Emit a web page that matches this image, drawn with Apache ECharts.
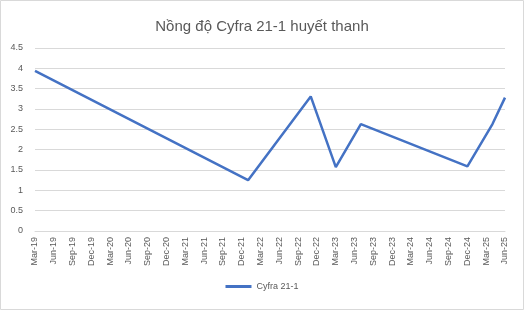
<!DOCTYPE html>
<html><head><meta charset="utf-8">
<script src="https://cdn.jsdelivr.net/npm/echarts@6/dist/echarts.min.js"></script>
<style>html,body{margin:0;padding:0;background:#fff}#c{width:524px;height:310px}</style>
</head><body><div id="c"></div>
<script>
var title = 'Nồng độ Cyfra 21-1 huyết thanh';
var seriesName = 'Cyfra 21-1';
// observation dates (year, month) and values
var obsDates = ['2019-03','2022-01','2022-11','2023-03','2023-07','2024-12','2025-04','2025-06'];
var obsValues = [3.94, 1.25, 3.31, 1.57, 2.63, 1.59, 2.63, 3.28];
var tickLabels = ['Mar-19','Jun-19','Sep-19','Dec-19','Mar-20','Jun-20','Sep-20','Dec-20','Mar-21','Jun-21','Sep-21','Dec-21','Mar-22','Jun-22','Sep-22','Dec-22','Mar-23','Jun-23','Sep-23','Dec-23','Mar-24','Jun-24','Sep-24','Dec-24','Mar-25','Jun-25'];

function monthIndex(s){var p=s.split('-');return (+p[0]-2019)*12+(+p[1]-3);}
var data = obsDates.map(function(d,i){return [monthIndex(d), obsValues[i]];});

var chart = echarts.init(document.getElementById('c'));
var font = 'Liberation Sans';
chart.setOption({
  animation:false,
  textStyle:{fontFamily:font},
  title:{text:title,left:'center',top:14,textStyle:{fontFamily:font,fontSize:15,fontWeight:'normal',color:'#595959'}},
  graphic:[{type:'rect',shape:{x:0.5,y:0.5,width:523,height:309},style:{fill:'none',stroke:'#d9d9d9',lineWidth:1},silent:true}],
  grid:{left:35,right:19,top:48,bottom:79},
  xAxis:{type:'value',min:0,max:75,interval:3,
    axisLine:{show:true,lineStyle:{color:'#d9d9d9'}},axisTick:{show:false},splitLine:{show:false},
    axisLabel:{rotate:90,fontSize:9,color:'#595959',margin:6,formatter:function(v){return tickLabels[Math.round(v/3)]||'';}}},
  yAxis:{type:'value',min:0,max:4.5,interval:0.5,
    axisLine:{show:false},axisTick:{show:false},
    splitLine:{lineStyle:{color:'#d9d9d9'}},
    axisLabel:{fontSize:9,color:'#595959',margin:12}},
  legend:{bottom:14,left:'center',itemWidth:26,itemHeight:3,icon:'rect',textStyle:{fontSize:9,color:'#595959'},data:[seriesName]},
  series:[{name:seriesName,type:'line',data:data,showSymbol:false,symbol:'none',lineStyle:{color:'#4472C4',width:2.5},itemStyle:{color:'#4472C4'}}]
});
</script></body></html>
